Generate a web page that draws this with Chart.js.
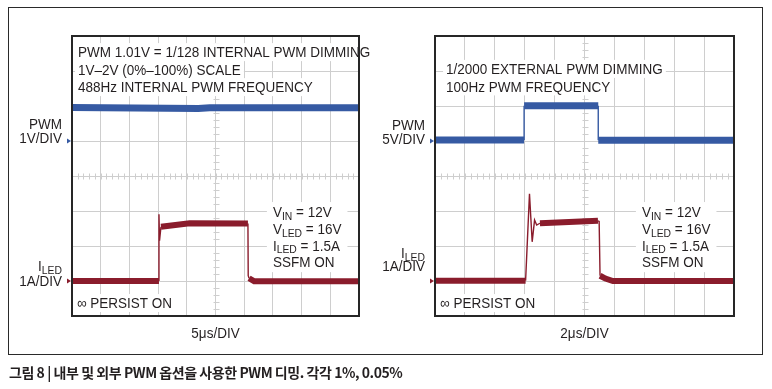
<!DOCTYPE html>
<html><head><meta charset="utf-8">
<script src="https://cdn.jsdelivr.net/npm/chart.js@4.4.1/dist/chart.umd.min.js"></script>
<style>
html,body{margin:0;padding:0;background:#fff;}
body{width:772px;height:389px;position:relative;overflow:hidden;}
#frame{position:absolute;left:8px;top:7px;width:755px;height:348px;box-sizing:border-box;border:1.5px solid #2a2a2a;}
canvas{position:absolute;top:0;}
#c1{left:0;} #c2{left:372px;}
#cap{position:absolute;left:9px;top:363px;font:bold 14px "Noto Sans CJK KR",sans-serif;letter-spacing:-0.45px;color:#231f20;white-space:nowrap;line-height:18px;}
</style></head><body>
<div id="frame"></div>
<canvas id="c1" width="380" height="389"></canvas>
<canvas id="c2" width="400" height="389"></canvas>
<div id="cap">그림 8 | 내부 및 외부 PWM 옵션을 사용한 PWM 디밍. 각각 1%, 0.05%</div>
<script>
// ---- Data (units: scope divisions; x 0..10, y 0..8 from bottom) ----
// Left scope: internal PWM dimming, 5us/DIV
const intPwmX = [0, 4.4, 4.8, 10];
const intPwmY = [5.96, 5.93, 5.95, 5.95];
const intLedX = [0, 3.03, 3.03, 3.05, 3.10, 4.10, 6.13, 6.14, 6.17, 6.35, 10];
const intLedY = [1.00, 1.00, 2.91, 2.15, 2.55, 2.65, 2.64, 1.15, 1.08, 0.99, 0.99];
// Right scope: external PWM dimming, 2us/DIV
const extPwmX = [0, 2.98, 2.98, 5.46, 5.46, 10];
const extPwmY = [5.03, 5.03, 6.01, 6.01, 5.02, 5.02];
const extLedX = [0, 3.03, 3.16, 3.25, 3.33, 3.40, 3.51, 5.45, 5.49, 5.52, 5.70, 5.95, 10];
const extLedY = [1.01, 1.01, 3.49, 2.12, 2.74, 2.60, 2.65, 2.72, 2.70, 1.15, 1.07, 1.00, 1.00];

const xDivs = 10;
const yDivs = 8;
const pwmGround = 5;   // channel marker positions (divisions)
const ledGround = 1;

// ---- Text ----
const intNotes = ['PWM 1.01V = 1/128 INTERNAL PWM DIMMING', '1V\u20132V (0%\u2013100%) SCALE', '488Hz INTERNAL PWM FREQUENCY'];
const extNotes = ['1/2000 EXTERNAL PWM DIMMING', '100Hz PWM FREQUENCY'];
const condLines = [
  [['V', 0], ['IN', 1], [' = 12V', 0]],
  [['V', 0], ['LED', 1], [' = 16V', 0]],
  [['I', 0], ['LED', 1], [' = 1.5A', 0]],
  [['SSFM ON', 0]]
];
const persistText = '\u221E PERSIST ON';
const timebases = ['5\u03BCs/DIV', '2\u03BCs/DIV'];
const pwmScales = ['1V/DIV', '5V/DIV'];
const pwmName = 'PWM';
const ledName = [['I', 0], ['LED', 1]];
const ledScale = '1A/DIV';

// ---- Styles ----
const BLUE = '#365aa3';
const RED = '#8a1c2c';
const INK = '#231f20';
const GRID = '#cecece';
const MAIN_FONT = '15px "Liberation Sans", Arial, sans-serif';
const SUB_FONT = '11.5px "Liberation Sans", Arial, sans-serif';
const SX = 0.9;
const BASE_OFF = 5.3;
const SUB_DROP = 2.5;

function pts(xs, ys) { return xs.map((x, i) => ({ x: x, y: ys[i] })); }

function trace(xs, ys, color, thick) {
  return {
    data: pts(xs, ys), borderColor: color, backgroundColor: color,
    borderWidth: thick, pointRadius: 0, tension: 0,
    borderCapStyle: 'butt', borderJoinStyle: 'miter',
    segment: { borderWidth: c => Math.abs(c.p1.x - c.p0.x) < 4 ? 1.4 : thick }
  };
}

function richWidth(ctx, parts) {
  let w = 0;
  for (const [t, sub] of parts) { ctx.font = sub ? SUB_FONT : MAIN_FONT; w += ctx.measureText(t).width * SX; }
  return w;
}
function drawRich(ctx, parts, x, cy, align) {
  const w = richWidth(ctx, parts);
  const left = align === 'right' ? x - w : align === 'center' ? x - w / 2 : x;
  let cx = left;
  ctx.fillStyle = INK;
  ctx.textBaseline = 'alphabetic';
  ctx.textAlign = 'left';
  for (const [t, sub] of parts) {
    ctx.font = sub ? SUB_FONT : MAIN_FONT;
    const tw = ctx.measureText(t).width * SX;
    ctx.save();
    ctx.translate(cx, cy + BASE_OFF + (sub ? SUB_DROP : 0));
    ctx.scale(SX, 1);
    ctx.fillText(t, 0, 0);
    ctx.restore();
    cx += tw;
  }
  return { left: left, w: w };
}

const decor = {
  id: 'decor',
  beforeDatasetsDraw(chart, args, o) {
    const ctx = chart.ctx, xs = chart.scales.x, ys = chart.scales.y;
    // minor ticks on centre lines
    ctx.save();
    ctx.strokeStyle = GRID; ctx.lineWidth = 1;
    const cx = Math.round(xs.getPixelForValue(xDivs / 2)) + 0.5;
    const cy = Math.round(ys.getPixelForValue(yDivs / 2)) + 0.5;
    ctx.beginPath();
    for (let i = 1; i < xDivs * 5; i++) {
      const px = Math.round(xs.getPixelForValue(i / 5)) + 0.5;
      ctx.moveTo(px, cy - 3); ctx.lineTo(px, cy + 3);
    }
    for (let i = 1; i < yDivs * 5; i++) {
      const py = Math.round(ys.getPixelForValue(i / 5)) + 0.5;
      ctx.moveTo(cx - 3, py); ctx.lineTo(cx + 3, py);
    }
    ctx.stroke();
    // top notes with white backing
    const nx = xs.getPixelForValue(o.noteX);
    let ny = ys.getPixelForValue(o.noteY);
    for (const line of o.notes) {
      const w = richWidth(ctx, [[line, 0]]);
      ctx.fillStyle = '#fff';
      ctx.fillRect(nx - 3, ny - 9, w + 6, 18);
      drawRich(ctx, [[line, 0]], nx, ny, 'left');
      ny += 17.5;
    }
    // condition block
    const bx = xs.getPixelForValue(o.condX);
    const by = ys.getPixelForValue(o.condY);
    let mw = 0;
    for (const l of condLines) mw = Math.max(mw, richWidth(ctx, l));
    ctx.fillStyle = '#fff';
    ctx.fillRect(bx - 6, by - 10, mw + 12, 16.7 * (condLines.length - 1) + 20);
    condLines.forEach((l, i) => drawRich(ctx, l, bx, by + 16.7 * i, 'left'));
    // persist
    const px0 = xs.getPixelForValue(o.persistX);
    const py0 = ys.getPixelForValue(o.persistY);
    const pw = richWidth(ctx, [[persistText, 0]]);
    ctx.fillStyle = '#fff';
    ctx.fillRect(px0 - 3, py0 - 9, pw + 6, 18);
    drawRich(ctx, [[persistText, 0]], px0, py0, 'left');
    ctx.restore();
  },
  afterDatasetsDraw(chart, args, o) {
    const ctx = chart.ctx, a = chart.chartArea, xs = chart.scales.x, ys = chart.scales.y;
    ctx.save();
    // frame
    ctx.strokeStyle = '#262626'; ctx.lineWidth = 2;
    ctx.strokeRect(a.left, a.top, a.right - a.left, a.bottom - a.top);
    // channel markers
    const mark = (v, col) => {
      const y = ys.getPixelForValue(v);
      ctx.fillStyle = col;
      ctx.beginPath();
      ctx.moveTo(a.left - 5, y - 2.5); ctx.lineTo(a.left - 1, y); ctx.lineTo(a.left - 5, y + 2.5);
      ctx.closePath(); ctx.fill();
    };
    mark(pwmGround, BLUE);
    mark(ledGround, RED);
    // channel labels
    const lx = a.left - 10;
    const pg = ys.getPixelForValue(pwmGround);
    drawRich(ctx, [[pwmName, 0]], lx, pg + o.pwmNameDy, 'right');
    drawRich(ctx, [[o.pwmScale, 0]], lx, pg + o.pwmScaleDy, 'right');
    const lg = ys.getPixelForValue(ledGround);
    drawRich(ctx, ledName, lx, lg + o.ledNameDy, 'right');
    drawRich(ctx, [[ledScale, 0]], lx, lg + o.ledScaleDy, 'right');
    // timebase
    drawRich(ctx, [[o.timebase, 0]], (a.left + a.right) / 2, a.bottom + 17, 'center');
    ctx.restore();
  }
};

function scope(id, pad, pwmX, pwmY, ledX, ledY, deco) {
  return new Chart(document.getElementById(id), {
    type: 'line',
    data: { datasets: [trace(pwmX, pwmY, BLUE, 7), trace(ledX, ledY, RED, 6)] },
    options: {
      responsive: false, animation: false, devicePixelRatio: 1,
      layout: { padding: pad },
      plugins: { legend: { display: false }, tooltip: { enabled: false }, decor: deco },
      scales: {
        x: { type: 'linear', min: 0, max: xDivs,
             ticks: { display: false, stepSize: 1 },
             grid: { color: GRID, lineWidth: 1, drawTicks: false },
             border: { display: false } },
        y: { type: 'linear', min: 0, max: yDivs,
             ticks: { display: false, stepSize: 1 },
             grid: { color: GRID, lineWidth: 1, drawTicks: false },
             border: { display: false } }
      }
    },
    plugins: [decor]
  });
}

scope('c1', { left: 72, top: 36, right: 21, bottom: 73 }, intPwmX, intPwmY, intLedX, intLedY, {
  notes: intNotes, noteX: 0.21, noteY: 7.54,
  condX: 7.0, condY: 2.97, persistX: 0.17, persistY: 0.37,
  timebase: timebases[0], pwmScale: pwmScales[0],
  pwmNameDy: -17, pwmScaleDy: -3, ledNameDy: -15, ledScaleDy: 0
});
scope('c2', { left: 63, top: 36, right: 38, bottom: 73 }, extPwmX, extPwmY, extLedX, extLedY, {
  notes: extNotes, noteX: 0.37, noteY: 7.06,
  condX: 6.92, condY: 2.97, persistX: 0.17, persistY: 0.37,
  timebase: timebases[1], pwmScale: pwmScales[1],
  pwmNameDy: -16.5, pwmScaleDy: -2.5, ledNameDy: -28, ledScaleDy: -15
});
</script>
</body></html>
